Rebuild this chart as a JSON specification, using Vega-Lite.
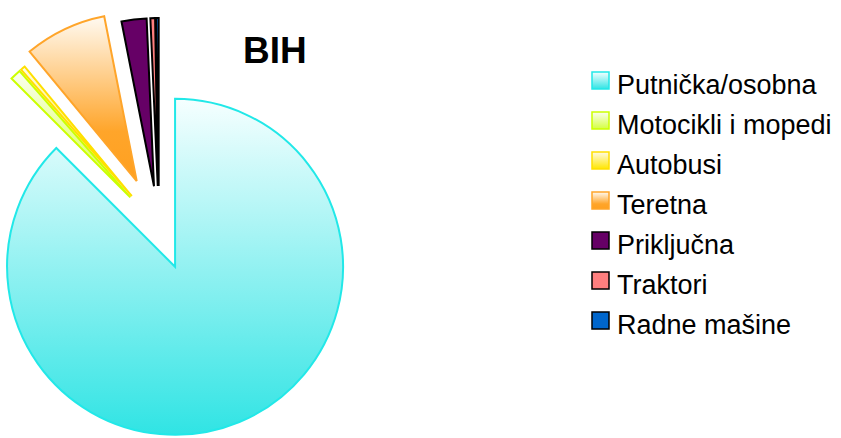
{
  "$schema": "https://vega.github.io/schema/vega-lite/v6.json",
  "width": 841,
  "height": 438,
  "autosize": "none",
  "padding": 0,
  "background": "white",
  "config": {"view": {"stroke": null}},
  "title": {"text": "BIH", "font": "Liberation Sans", "fontSize": 37, "fontWeight": "bold", "color": "#000000", "anchor": "start", "frame": "group", "dx": 243, "offset": -71},
  "data": {
    "values": [
      {"category": "Putnička/osobna", "share": 87.5},
      {"category": "Motocikli i mopedi", "share": 1.05},
      {"category": "Autobusi", "share": 0.45},
      {"category": "Teretna", "share": 7.9},
      {"category": "Priključna", "share": 2.4},
      {"category": "Traktori", "share": 0.45},
      {"category": "Radne mašine", "share": 0.25}
    ]
  },
  "transform": [
    {"window": [{"op": "sum", "field": "share", "as": "cum"}], "frame": [null, 0]},
    {"calculate": "datum.cum - datum.share", "as": "start"},
    {"calculate": "(datum.start + datum.share / 2) / 100 * 2 * PI", "as": "mid"},
    {"calculate": "datum.category === 'Teretna' ? 52 : 42", "as": "explode"},
    {"calculate": "sin(datum.mid) * datum.explode", "as": "ex"},
    {"calculate": "cos(datum.mid) * datum.explode", "as": "ey"}
  ],
  "mark": {"type": "arc", "outerRadius": 168, "strokeWidth": 2, "strokeJoin": "miter"},
  "encoding": {
    "theta": {"field": "start", "type": "quantitative", "scale": {"domain": [0, 100]}, "stack": null},
    "theta2": {"field": "cum"},
    "x": {"field": "ex", "type": "quantitative", "scale": {"domain": [-159, 682], "nice": false, "zero": false}, "axis": null},
    "y": {"field": "ey", "type": "quantitative", "scale": {"domain": [-210, 228], "nice": false, "zero": false}, "axis": null},
    "fill": {
      "field": "category",
      "type": "nominal",
      "sort": null,
      "scale": {
        "domain": ["Putnička/osobna", "Motocikli i mopedi", "Autobusi", "Teretna", "Priključna", "Traktori", "Radne mašine"],
        "range": [
          {"expr": "{gradient: 'linear', x1: 0, y1: 0, x2: 0, y2: 1, stops: [{offset: 0, color: '#f6ffff'}, {offset: 1, color: '#30e4e4'}]}"},
          {"expr": "{gradient: 'linear', x1: 0, y1: 0, x2: 0, y2: 1, stops: [{offset: 0, color: '#fbfff0'}, {offset: 1, color: '#d4ff40'}]}"},
          {"expr": "{gradient: 'linear', x1: 0, y1: 0, x2: 0, y2: 1, stops: [{offset: 0, color: '#fffbe6'}, {offset: 1, color: '#ffe600'}]}"},
          {"expr": "{gradient: 'linear', x1: 0, y1: 0, x2: 0, y2: 1, stops: [{offset: 0, color: '#fffaf2'}, {offset: 0.7, color: '#ffa52a'}, {offset: 1, color: '#ffa020'}]}"},
          "#660066",
          "#ff7f7f",
          "#0066cc"
        ]
      },
      "legend": {
        "title": null,
        "orient": "none",
        "legendX": 587,
        "legendY": 67,
        "padding": 0,
        "symbolType": "square",
        "symbolSize": 289,
        "symbolStrokeWidth": 1.5,
        "labelFont": "Liberation Sans",
        "labelFontSize": 27,
        "labelColor": "#000000",
        "labelOffset": 3,
        "labelLimit": 300,
        "rowPadding": 8,
        "encode": {
          "symbols": {"update": {"stroke": {"scale": "stroke", "field": "value"}}},
          "labels": {"update": {"dy": {"value": 5}}}
        }
      }
    },
    "stroke": {
      "field": "category",
      "type": "nominal",
      "sort": null,
      "scale": {
        "domain": ["Putnička/osobna", "Motocikli i mopedi", "Autobusi", "Teretna", "Priključna", "Traktori", "Radne mašine"],
        "range": ["#22e8e8", "#ccff00", "#ffe000", "#ffa52a", "#000000", "#000000", "#000000"]
      },
      "legend": null
    }
  }
}
